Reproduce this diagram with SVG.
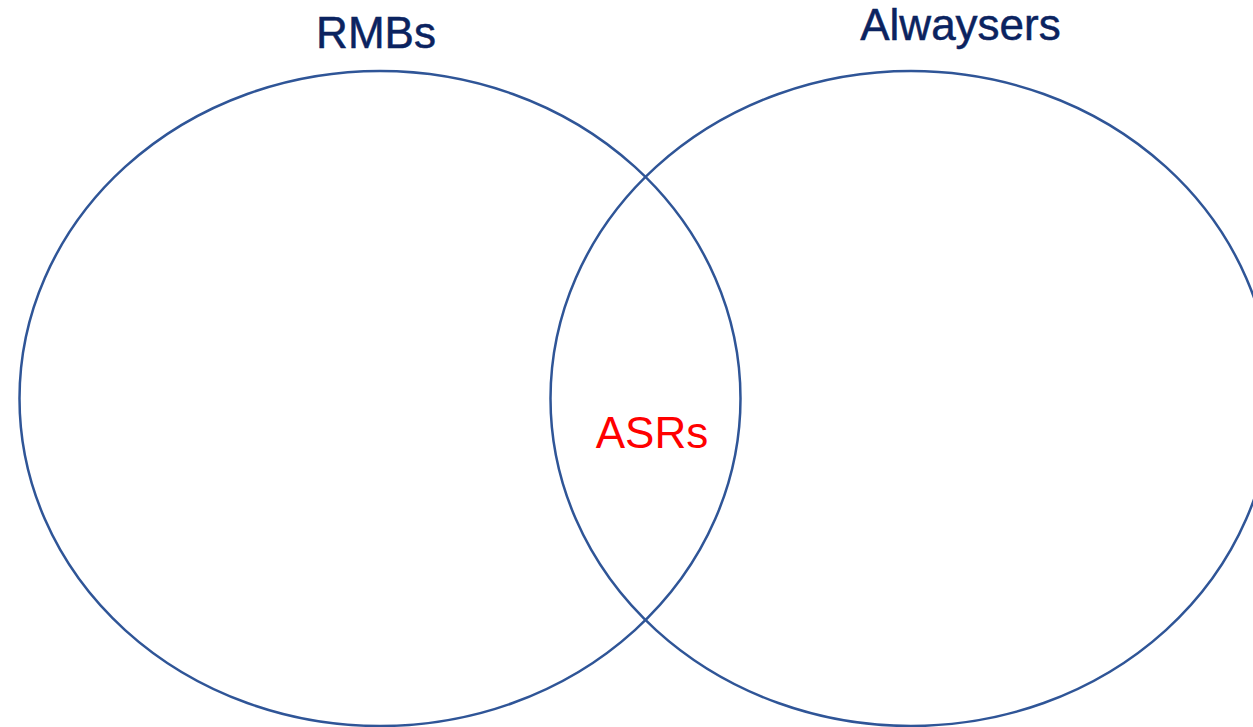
<svg xmlns="http://www.w3.org/2000/svg" width="1253" height="727" viewBox="0 0 1253 727">
<style>
.set{fill:none;stroke:#2f5597;stroke-width:2.5}
.lbl{font-family:"Liberation Sans",Arial,sans-serif;font-size:44px;text-anchor:middle}
.title{fill:#0b2360;stroke:#0b2360;stroke-width:0.5px}
.mid{fill:#ff0000}
</style>
<rect width="1253" height="727" fill="#ffffff"/>
<g id="rmbs">
<ellipse class="set" cx="380" cy="398.5" rx="360.5" ry="327.5"/>
<text class="lbl title" x="376" y="48">RMBs</text>
</g>
<g id="alwaysers">
<ellipse class="set" cx="911" cy="398.5" rx="360.5" ry="327.5"/>
<text class="lbl title" x="960.5" y="40">Alwaysers</text>
</g>
<g id="asrs">
<text class="lbl mid" x="652" y="448">ASRs</text>
</g>
<g id="connectors"></g>
</svg>
